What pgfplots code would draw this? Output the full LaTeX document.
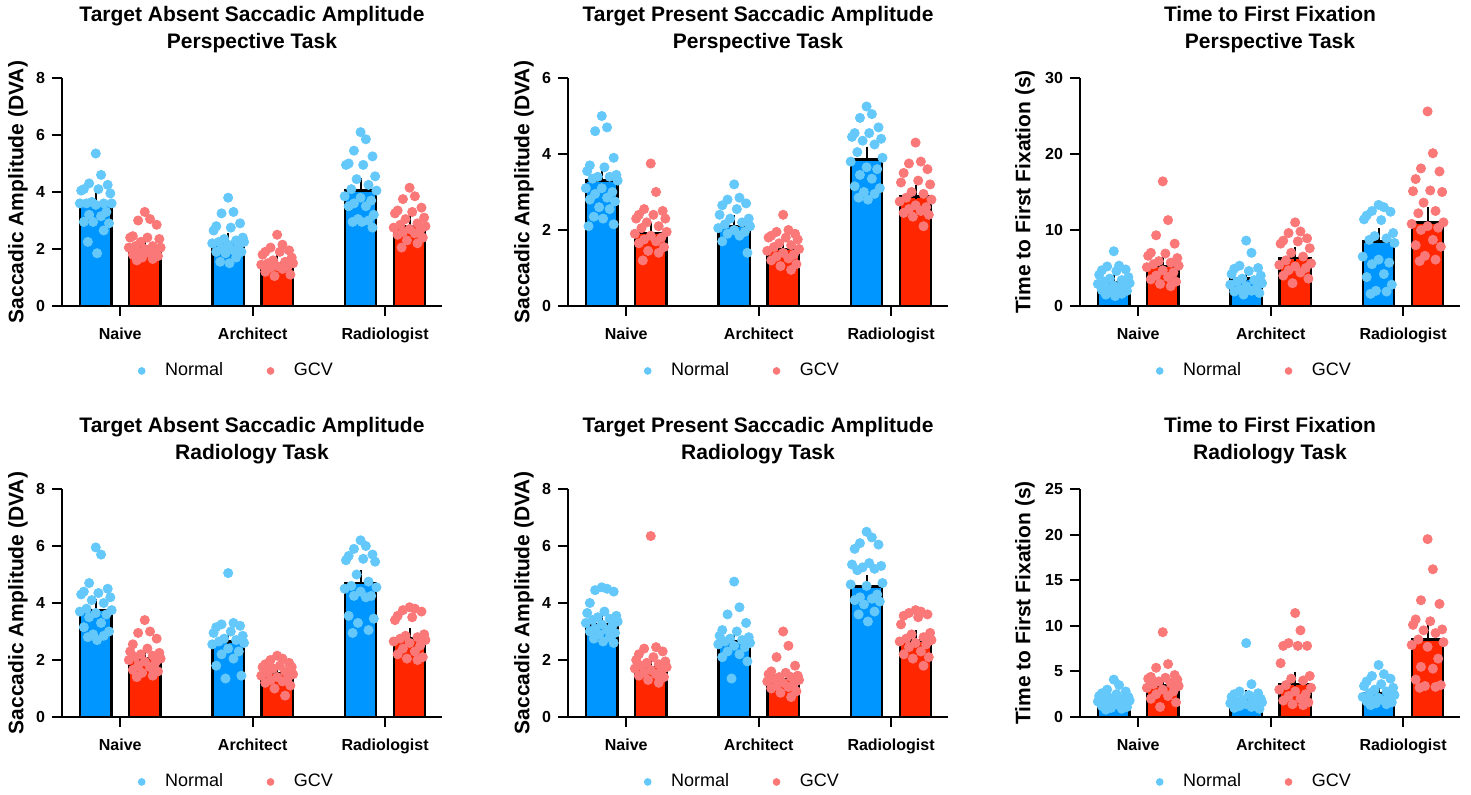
\documentclass[border=0pt]{standalone}
\usepackage{fontspec}
\setmainfont{Liberation Sans}
\usepackage{pgfplots}
\usepackage{pgfplotstable}
\pgfplotsset{compat=1.18}

\definecolor{barblue}{RGB}{0,150,255}
\definecolor{barred}{RGB}{255,38,0}
\definecolor{dotblue}{RGB}{100,200,250}
\definecolor{dotred}{RGB}{250,120,120}

% dot tables: dx = horizontal jitter, n/g = Normal/GCV for Naive(1), Architect(2), Radiologist(3)
\pgfplotstableread{
dx n1 g1 n2 g2 n3 g3
0 5.35 3.3 3.8 2.5 6.1 4.15
0.04 4.6 3.05 3.3 2.15 5.85 3.85
-0.05 4.3 3.0 3.25 2.05 5.45 3.75
0.09 4.25 2.85 2.9 1.95 5.25 3.45
-0.09 4.1 2.45 2.8 1.9 5.0 3.35
0.02 4.1 2.4 2.75 1.9 4.95 3.3
-0.11 4.05 2.4 2.65 1.8 4.95 3.25
0.11 3.95 2.35 2.4 1.7 4.55 3.1
-0.03 3.65 2.25 2.35 1.6 4.45 3.05
0.06 3.6 2.1 2.3 1.55 4.25 2.9
-0.07 3.6 2.1 2.25 1.5 4.1 2.85
0.12 3.6 2.05 2.25 1.5 4.05 2.8
-0.12 3.6 2.05 2.2 1.45 3.85 2.75
0 3.55 2.0 2.15 1.4 3.8 2.7
0.08 3.3 1.95 2.1 1.4 3.7 2.65
-0.05 3.2 1.9 2.0 1.35 3.6 2.6
0.04 3.15 1.85 1.95 1.3 3.5 2.55
-0.09 2.95 1.8 1.9 1.2 3.5 2.5
0.1 2.9 1.75 1.9 1.1 3.2 2.4
-0.02 2.95 1.7 1.85 1.05 3.05 2.3
0.06 2.65 1.65 1.7 nan 3.0 2.2
-0.06 2.25 1.6 1.55 nan 2.95 2.05
0.01 1.85 nan 1.5 nan 2.95 nan
0.09 nan nan nan nan 2.75 nan
}\tA

\pgfplotstableread{
dx n1 g1 n2 g2 n3 g3
0 5.0 3.75 3.2 2.4 5.25 4.3
0.04 4.7 3.0 2.85 2.0 5.05 3.8
-0.05 4.6 2.55 2.8 1.95 4.95 3.75
0.09 3.9 2.5 2.7 1.9 4.7 3.6
-0.09 3.7 2.4 2.65 1.85 4.55 3.5
0.02 3.65 2.4 2.55 1.8 4.55 3.3
-0.11 3.55 2.3 2.4 1.8 4.45 3.25
0.11 3.45 2.3 2.3 1.75 4.4 3.2
-0.03 3.4 2.2 2.3 1.65 4.35 3.0
0.06 3.4 2.1 2.2 1.6 4.25 2.95
-0.07 3.35 2.05 2.15 1.55 4.05 2.85
0.12 3.3 1.95 2.1 1.5 3.9 2.8
-0.12 3.1 1.9 2.05 1.45 3.8 2.75
0 3.1 1.85 2.0 1.4 3.65 2.65
0.08 3.0 1.8 1.95 1.35 3.6 2.6
-0.05 2.95 1.75 1.9 1.3 3.45 2.55
0.04 2.85 1.7 1.85 1.25 3.35 2.5
-0.09 2.8 1.65 1.7 1.2 3.15 2.45
0.1 2.75 1.55 1.4 1.1 3.1 2.4
-0.02 2.6 1.45 nan 1.05 3.0 2.35
0.06 2.55 1.4 nan 0.95 2.95 2.1
-0.06 2.35 1.2 nan nan 2.85 nan
0.01 2.3 nan nan nan 2.8 nan
0.09 2.15 nan nan nan nan nan
-0.1 2.1 nan nan nan nan nan
}\tB

\pgfplotstableread{
dx n1 g1 n2 g2 n3 g3
0 7.2 16.4 8.6 11.0 13.3 25.6
0.04 5.3 11.3 7.0 9.8 13.0 20.1
-0.05 5.2 9.3 5.3 9.6 12.5 18.1
0.09 4.8 8.2 5.0 8.9 12.4 17.7
-0.09 4.7 7.0 4.9 8.6 11.9 16.7
0.02 4.6 6.9 4.6 8.5 11.3 15.2
-0.11 4.1 6.6 4.2 8.2 11.4 15.1
0.11 3.8 6.3 4.0 7.6 9.6 15.0
-0.03 3.6 5.9 3.6 7.0 9.2 13.6
0.06 3.4 5.7 3.4 6.5 8.9 12.5
-0.07 3.2 5.5 3.2 6.0 8.7 12.2
0.12 3.0 5.3 3.0 5.6 8.3 11.0
-0.12 2.9 5.1 2.8 5.4 6.5 10.8
0 2.7 4.7 2.6 5.2 6.1 10.5
0.08 2.5 4.4 2.4 5.0 5.7 10.3
-0.05 2.4 4.0 2.2 4.7 5.5 10.0
0.04 2.3 3.8 2.0 4.4 4.2 8.7
-0.09 2.1 3.5 1.9 4.0 3.8 8.0
0.1 2.0 3.2 1.7 3.6 2.8 7.8
-0.02 1.8 2.9 1.5 3.0 2.0 6.6
0.06 1.6 2.6 nan nan 1.9 6.1
-0.06 1.5 nan nan nan 1.6 5.9
0.01 1.3 nan nan nan nan nan
}\tC

\pgfplotstableread{
dx n1 g1 n2 g2 n3 g3
0 5.95 3.4 5.05 2.15 6.2 3.85
0.04 5.7 3.0 3.3 2.05 6.0 3.8
-0.05 4.7 2.95 3.25 2.0 5.9 3.75
0.09 4.5 2.75 3.2 1.9 5.7 3.7
-0.09 4.4 2.55 3.15 1.85 5.65 3.55
0.02 4.35 2.4 3.0 1.8 5.55 3.5
-0.11 4.3 2.3 2.95 1.75 5.5 3.4
0.11 4.2 2.25 2.85 1.75 5.45 2.9
-0.03 4.1 2.2 2.75 1.7 5.0 2.85
0.06 4.0 2.15 2.7 1.6 4.75 2.8
-0.07 3.8 2.1 2.65 1.55 4.6 2.75
0.12 3.75 2.05 2.6 1.5 4.55 2.7
-0.12 3.7 2.0 2.55 1.45 4.5 2.65
0 3.65 1.95 2.4 1.4 4.4 2.6
0.08 3.6 1.9 2.3 1.35 4.25 2.5
-0.05 3.5 1.8 2.2 1.3 4.25 2.4
0.04 3.3 1.75 2.05 1.25 4.2 2.3
-0.09 3.15 1.65 1.8 1.2 3.55 2.2
0.1 3.0 1.6 1.45 1.1 3.45 2.1
-0.02 2.9 1.55 1.35 1.0 3.3 2.05
0.06 2.85 1.45 nan 0.75 3.05 2.0
-0.06 2.8 1.4 nan nan 2.95 nan
0.01 2.7 nan nan nan nan nan
}\tD

\pgfplotstableread{
dx n1 g1 n2 g2 n3 g3
0 4.55 6.35 4.75 3.0 6.5 3.75
0.04 4.5 2.45 3.85 2.5 6.3 3.7
-0.05 4.45 2.4 3.6 2.1 6.1 3.65
0.09 4.4 2.3 3.3 1.8 6.05 3.6
-0.09 4.0 2.2 3.05 1.6 5.9 3.55
0.02 3.7 2.1 3.0 1.55 5.4 3.5
-0.11 3.65 2.0 2.85 1.5 5.35 3.25
0.11 3.55 1.95 2.8 1.45 5.3 2.95
-0.03 3.5 1.9 2.75 1.4 5.25 2.9
0.06 3.45 1.85 2.7 1.4 5.2 2.8
-0.07 3.4 1.8 2.65 1.35 5.15 2.75
0.12 3.35 1.75 2.6 1.3 4.7 2.7
-0.12 3.3 1.7 2.55 1.25 4.65 2.65
0 3.25 1.65 2.5 1.2 4.6 2.6
0.08 3.2 1.6 2.45 1.15 4.3 2.55
-0.05 3.1 1.55 2.3 1.1 4.2 2.45
0.04 3.05 1.5 2.2 1.05 4.15 2.3
-0.09 3.0 1.45 2.1 1.0 4.1 2.2
0.1 2.95 1.4 1.95 0.9 4.05 2.1
-0.02 2.9 1.3 1.35 0.85 3.95 2.05
0.06 2.8 1.2 nan 0.7 3.7 1.8
-0.06 2.75 nan nan nan 3.6 nan
0.01 2.65 nan nan nan 3.35 nan
0.09 2.6 nan nan nan nan nan
}\tE

\pgfplotstableread{
dx n1 g1 n2 g2 n3 g3
0 4.1 9.3 8.1 11.4 5.7 19.5
0.04 3.5 5.8 3.6 9.5 4.7 16.2
-0.05 3.0 5.4 2.8 8.1 4.5 12.8
0.09 2.8 4.6 2.6 7.8 4.2 12.4
-0.09 2.6 4.4 2.5 7.8 3.9 10.7
0.02 2.5 4.3 2.4 7.8 3.6 10.5
-0.11 2.3 4.2 2.2 5.9 3.4 10.1
0.11 2.2 4.1 2.0 4.5 3.2 9.6
-0.03 2.1 3.9 1.9 4.2 3.0 9.5
0.06 2.0 3.7 1.8 4.0 2.8 9.2
-0.07 1.9 3.6 1.7 3.5 2.6 8.5
0.12 1.8 3.4 1.6 3.2 2.4 8.2
-0.12 1.7 3.2 1.5 3.0 2.2 7.9
0 1.6 3.0 1.4 2.8 2.1 7.7
0.08 1.5 2.8 1.3 2.5 2.0 6.4
-0.05 1.4 2.5 1.2 2.3 1.9 5.5
0.04 1.3 2.3 1.1 2.0 1.8 5.3
-0.09 1.2 2.0 1.0 1.8 1.7 4.1
0.1 1.1 1.6 0.9 1.6 1.6 3.5
-0.02 1.0 1.1 nan 1.4 1.5 3.4
0.06 0.9 nan nan 1.3 1.4 3.3
-0.06 0.8 nan nan nan 1.3 3.2
}\tF

\pgfplotsset{
  panel/.style={
    scale only axis, width=190pt, height=114pt,
    anchor=south west,
    xmin=-0.44, xmax=2.43, ymin=0,
    axis x line*=bottom, axis y line*=left,
    axis line style={line width=1pt},
    xtick={0,1,2}, xticklabels={Naive,Architect,Radiologist},
    tick style={black, line width=1pt},
    tick align=outside, major tick length=5pt,
    ticklabel style={font=\bfseries\fontsize{8}{9}\selectfont},
    xticklabel style={yshift=-2.5pt},
    /pgf/number format/assume math mode=true,
    title style={at={(0.5,1)}, anchor=south, yshift=6.5pt, align=center,
      font=\bfseries\fontsize{10.5}{13.5}\selectfont, inner sep=0pt},
    every axis y label/.style={at={(axis description cs:-0.116,0.5)}, rotate=90, anchor=center,
      font=\bfseries\fontsize{10.5}{12}\selectfont},
    legend style={draw=none, fill=none, at={(0.184,-0.285)}, anchor=west,
      font=\fontsize{9}{10}\selectfont, legend columns=2,
      /tikz/every odd column/.append style={column sep=8pt},
      /tikz/every even column/.append style={column sep=20pt}},
    legend image code/.code={\draw[#1, mark size=1.7pt] plot coordinates {(0pt,0pt)};},
    clip=false,
  },
  widelab/.style={every axis y label/.append style={at={(axis description cs:-0.145,0.5)}}},
  barbase/.style={ybar, bar width=0.235, bar shift=0pt, draw=black,
    line width=1.2pt, forget plot,
    error bars/y dir=plus, error bars/y explicit,
    error bars/error bar style={line width=1pt, black},
    error bars/error mark options={line width=1pt, mark size=3.5pt, black}},
  nbar/.style={barbase, fill=barblue},
  gbar/.style={barbase, fill=barred},
  ndot/.style={only marks, mark=*, mark size=2.3pt, color=dotblue},
  gdot/.style={only marks, mark=*, mark size=2.3pt, color=dotred},
}

\newcommand{\panelplots}[3]{%
  \addplot[nbar] coordinates {#2};
  \addplot[gbar] coordinates {#3};
  \addplot[ndot] table[x expr=\thisrow{dx}-0.185, y=n1] {#1};
  \addlegendentry{Normal}
  \addplot[gdot] table[x expr=\thisrow{dx}+0.185, y=g1] {#1};
  \addlegendentry{GCV}
  \addplot[ndot, forget plot] table[x expr=\thisrow{dx}+0.815, y=n2] {#1};
  \addplot[gdot, forget plot] table[x expr=\thisrow{dx}+1.185, y=g2] {#1};
  \addplot[ndot, forget plot] table[x expr=\thisrow{dx}+1.815, y=n3] {#1};
  \addplot[gdot, forget plot] table[x expr=\thisrow{dx}+2.185, y=g3] {#1};
}

\begin{document}
\begin{tikzpicture}
\useasboundingbox (0,0) rectangle (735.5pt,397.5pt);

% row 1
\begin{axis}[panel, at={(31pt,244.5pt)}, ymax=8, ytick={0,2,4,6,8},
  title={Target Absent Saccadic Amplitude\\Perspective Task},
  ylabel={Saccadic Amplitude (DVA)}]
\panelplots{\tA}
  {(-0.185,3.55) +- (0,0.16) (0.815,2.2) +- (0,0.12) (1.815,4.05) +- (0,0.19)}
  {(0.185,2.05) +- (0,0.09) (1.185,1.5) +- (0,0.07) (2.185,2.8) +- (0,0.11)}
\end{axis}

\begin{axis}[panel, at={(284pt,244.5pt)}, ymax=6, ytick={0,2,4,6},
  title={Target Present Saccadic Amplitude\\Perspective Task},
  ylabel={Saccadic Amplitude (DVA)}]
\panelplots{\tB}
  {(-0.185,3.3) +- (0,0.15) (0.815,2.1) +- (0,0.1) (1.815,3.85) +- (0,0.16)}
  {(0.185,1.92) +- (0,0.11) (1.185,1.5) +- (0,0.07) (2.185,2.88) +- (0,0.11)}
\end{axis}

\begin{axis}[panel, widelab, at={(540pt,244.5pt)}, ymax=30, ytick={0,10,20,30},
  title={Time to First Fixation\\Perspective Task},
  ylabel={Time to First Fixation (s)}]
\panelplots{\tC}
  {(-0.185,3.1) +- (0,0.3) (0.815,3.6) +- (0,0.4) (1.815,8.5) +- (0,0.9)}
  {(0.185,5.3) +- (0,0.65) (1.185,6.3) +- (0,0.5) (2.185,11.0) +- (0,1.1)}
\end{axis}

% row 2
\begin{axis}[panel, at={(31pt,39pt)}, ymax=8, ytick={0,2,4,6,8},
  title={Target Absent Saccadic Amplitude\\Radiology Task},
  ylabel={Saccadic Amplitude (DVA)}]
\panelplots{\tD}
  {(-0.185,3.75) +- (0,0.16) (0.815,2.65) +- (0,0.17) (1.815,4.7) +- (0,0.2)}
  {(0.185,2.05) +- (0,0.11) (1.185,1.55) +- (0,0.07) (2.185,2.75) +- (0,0.12)}
\end{axis}

\begin{axis}[panel, at={(284pt,39pt)}, ymax=8, ytick={0,2,4,6,8},
  title={Target Present Saccadic Amplitude\\Radiology Task},
  ylabel={Saccadic Amplitude (DVA)}]
\panelplots{\tE}
  {(-0.185,3.25) +- (0,0.1) (0.815,2.65) +- (0,0.15) (1.815,4.58) +- (0,0.17)}
  {(0.185,1.75) +- (0,0.22) (1.185,1.33) +- (0,0.11) (2.185,2.68) +- (0,0.12)}
\end{axis}

\begin{axis}[panel, widelab, at={(540pt,39pt)}, ymax=25, ytick={0,5,10,15,20,25},
  title={Time to First Fixation\\Radiology Task},
  ylabel={Time to First Fixation (s)}]
\panelplots{\tF}
  {(-0.185,1.9) +- (0,0.17) (0.815,1.8) +- (0,0.36) (1.815,2.65) +- (0,0.23)}
  {(0.185,3.45) +- (0,0.4) (1.185,3.6) +- (0,0.6) (2.185,8.5) +- (0,0.9)}
\end{axis}
\end{tikzpicture}
\end{document}
